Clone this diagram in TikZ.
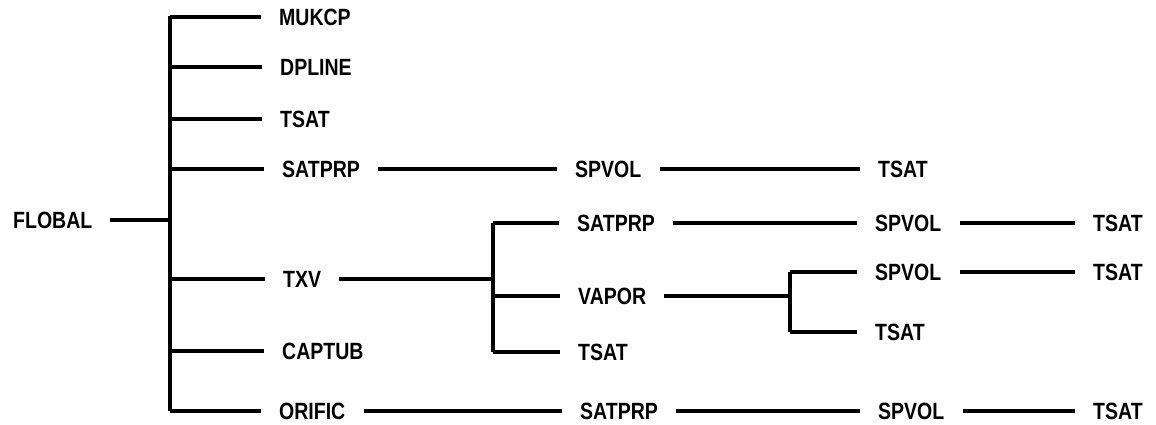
\documentclass[tikz,border=0pt]{standalone}
\usepackage{fontspec}
\usepackage{graphicx}
\setmainfont{Liberation Sans}
\newcommand\lb[1]{\scalebox{0.83}[1]{#1}}
\begin{document}
\begin{tikzpicture}[x=1pt,y=-1pt,
  lab/.style={anchor=west,inner xsep=18pt,inner ysep=0pt,font=\fontsize{23.5}{27}\selectfont\bfseries},
  conn/.style={line width=3.2pt,line cap=butt}]
\useasboundingbox (0,0) rectangle (1156,424);
% labels
\node[lab] (flobal) at (-5,220) {\lb{FLOBAL}};
\node[lab] (mukcp) at (261,17) {\lb{MUKCP}};
\node[lab] (dpline) at (262,67) {\lb{DPLINE}};
\node[lab] (tsatA) at (262,119) {\lb{TSAT}};
\node[lab] (satA) at (264,169) {\lb{SATPRP}};
\node[lab] (spvA) at (557,169) {\lb{SPVOL}};
\node[lab] (tsatB) at (860,169) {\lb{TSAT}};
\node[lab] (txv) at (265,279) {\lb{TXV}};
\node[lab] (satB) at (559,223) {\lb{SATPRP}};
\node[lab] (spvB) at (857,223) {\lb{SPVOL}};
\node[lab] (tsatC) at (1075,223) {\lb{TSAT}};
\node[lab] (vapor) at (560,296) {\lb{VAPOR}};
\node[lab] (spvC) at (857,272) {\lb{SPVOL}};
\node[lab] (tsatD) at (1075,272) {\lb{TSAT}};
\node[lab] (tsatE) at (857,332) {\lb{TSAT}};
\node[lab] (tsatF) at (560,352) {\lb{TSAT}};
\node[lab] (captub) at (264,351) {\lb{CAPTUB}};
\node[lab] (orific) at (261,411) {\lb{ORIFIC}};
\node[lab] (satC) at (562,411) {\lb{SATPRP}};
\node[lab] (spvD) at (860,411) {\lb{SPVOL}};
\node[lab] (tsatG) at (1075,411) {\lb{TSAT}};
% junctions
\coordinate (trunkT) at (170,16);
\coordinate (trunkB) at (170,411);
\coordinate (jtxvT) at (493,223);
\coordinate (jtxvB) at (493,352);
\coordinate (jvapT) at (790,272);
\coordinate (jvapB) at (790,332);
% trunk
\draw[conn] (trunkT) -- (trunkB);
\draw[conn] (flobal.east) -- (flobal.east -| trunkT);
\foreach \n in {mukcp,dpline,tsatA,satA,txv,captub,orific}
  \draw[conn] (\n.west -| trunkT) -- (\n.west);
% chains
\draw[conn] (satA.east) -- (spvA.west);
\draw[conn] (spvA.east) -- (tsatB.west);
\draw[conn] (txv.east) -- (txv.east -| jtxvT);
\draw[conn] (jtxvT) -- (jtxvB);
\foreach \n in {satB,vapor,tsatF}
  \draw[conn] (\n.west -| jtxvT) -- (\n.west);
\draw[conn] (satB.east) -- (spvB.west);
\draw[conn] (spvB.east) -- (tsatC.west);
\draw[conn] (vapor.east) -- (vapor.east -| jvapT);
\draw[conn] (jvapT) -- (jvapB);
\foreach \n in {spvC,tsatE}
  \draw[conn] (\n.west -| jvapT) -- (\n.west);
\draw[conn] (spvC.east) -- (tsatD.west);
\draw[conn] (orific.east) -- (satC.west);
\draw[conn] (satC.east) -- (spvD.west);
\draw[conn] (spvD.east) -- (tsatG.west);
\end{tikzpicture}
\end{document}
